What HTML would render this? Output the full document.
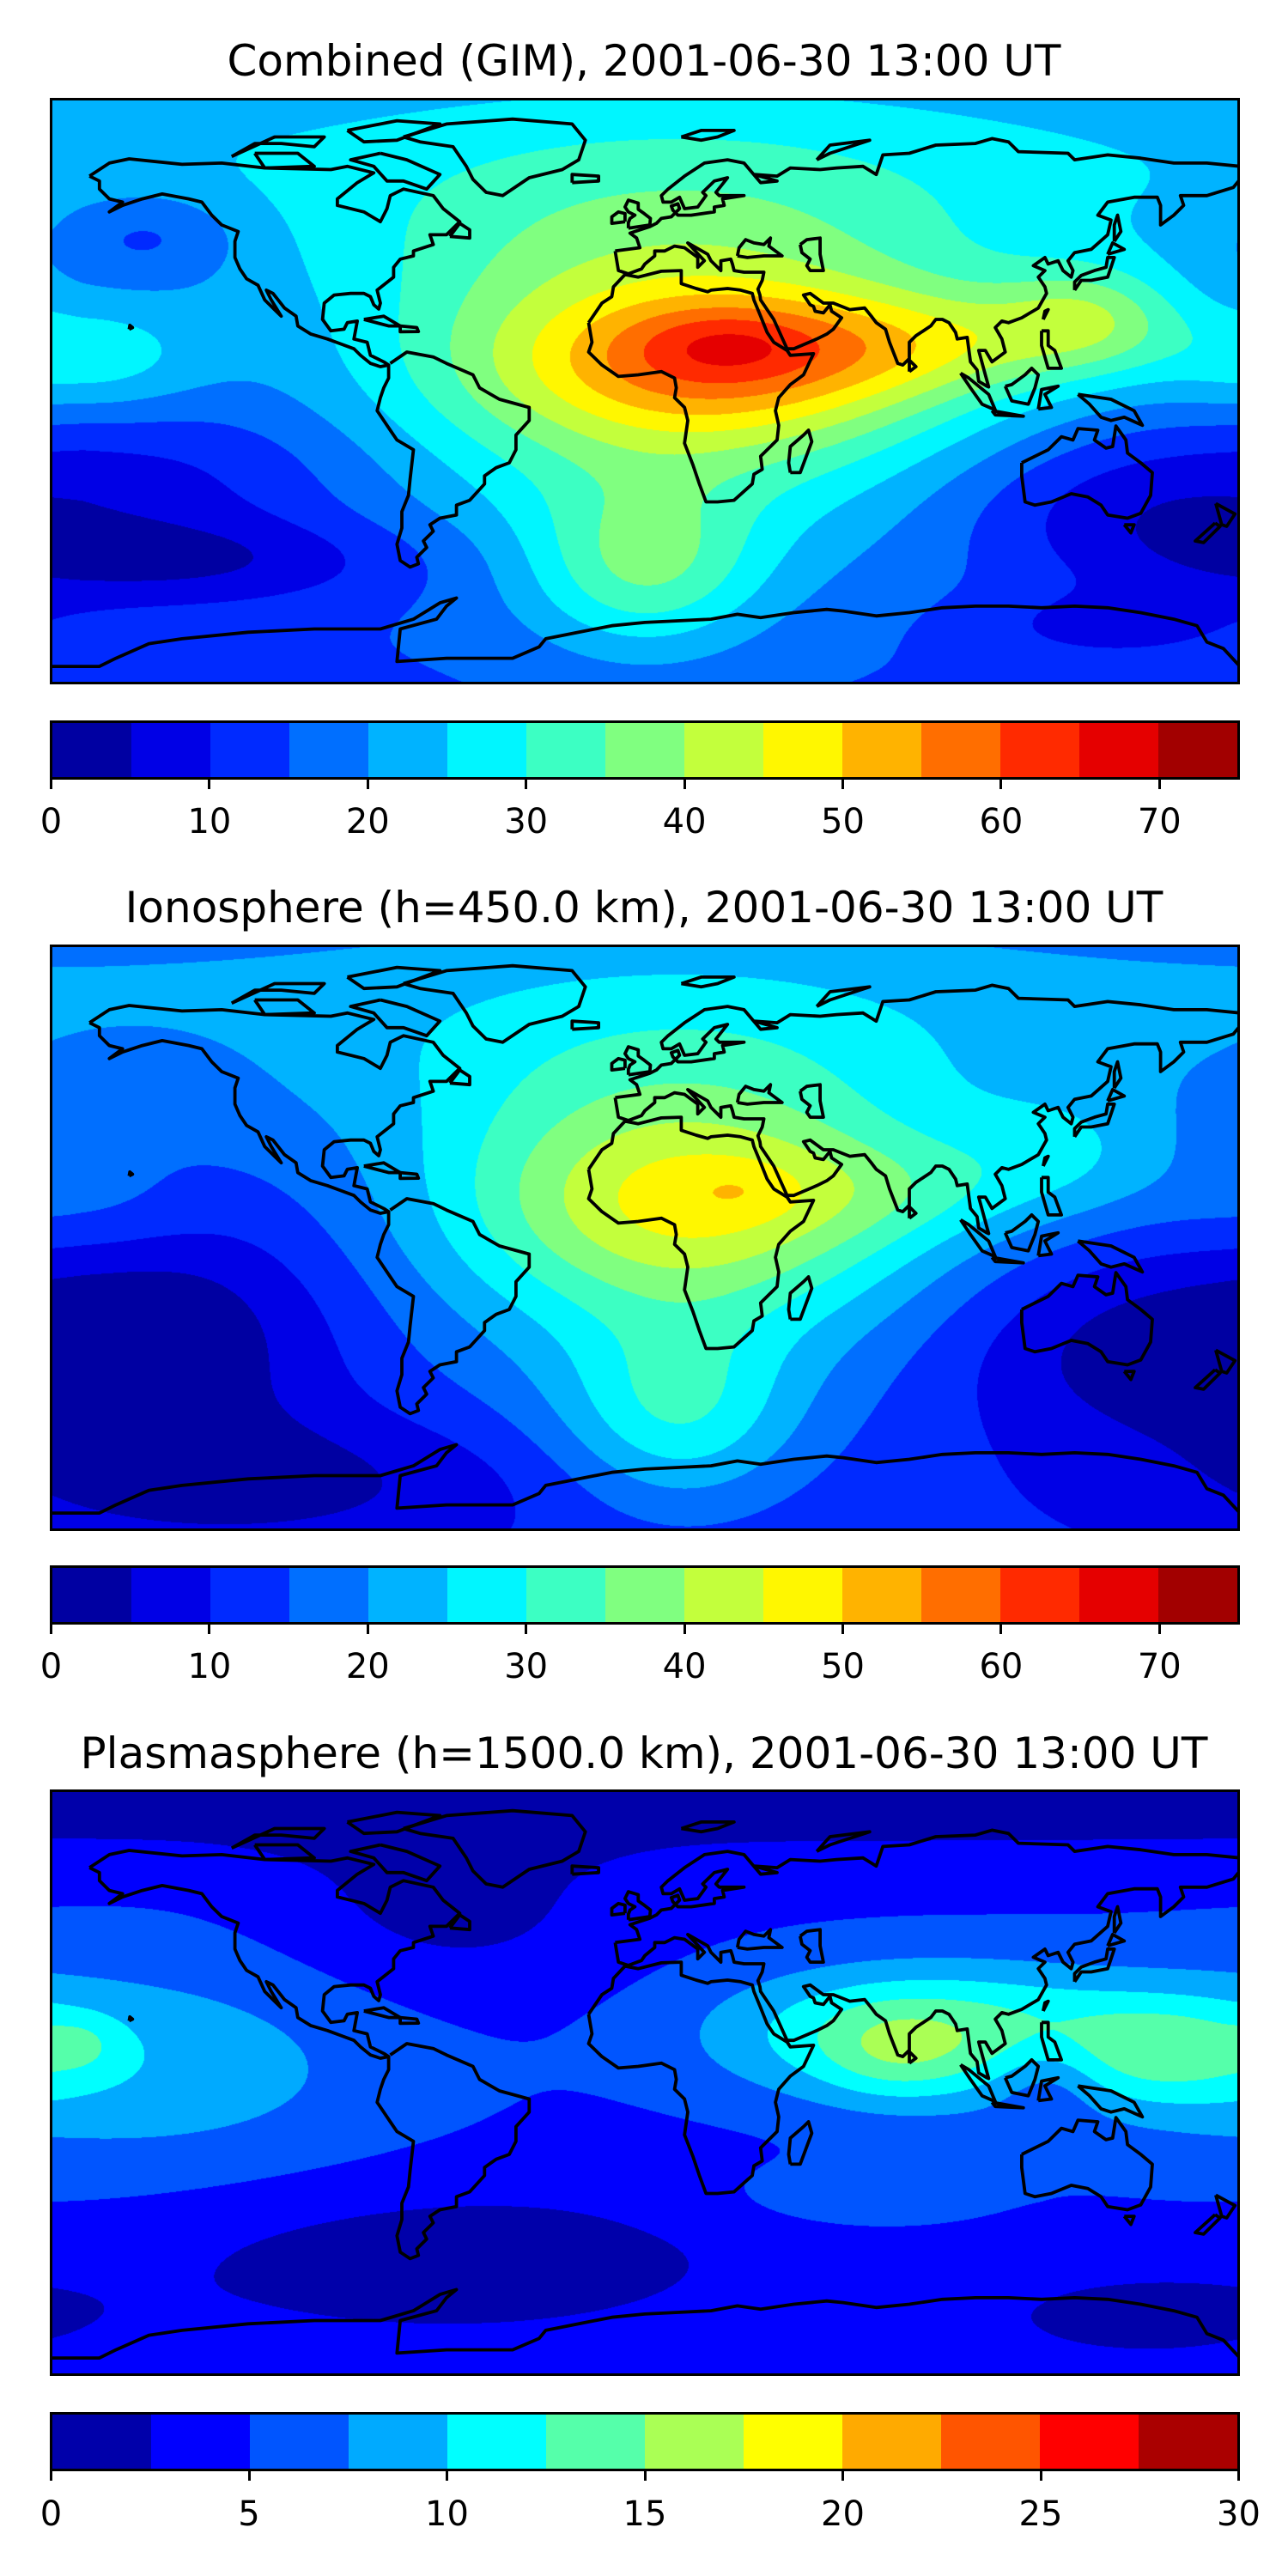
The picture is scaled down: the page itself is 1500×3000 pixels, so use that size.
<!DOCTYPE html>
<html><head><meta charset="utf-8">
<style>
html,body{margin:0;padding:0;background:#fff;}
body{width:1500px;height:3000px;position:relative;overflow:hidden;font-family:"DejaVu Sans","Liberation Sans",sans-serif;}
.title{position:absolute;left:0;width:1500px;text-align:center;font-size:50px;line-height:50px;color:#000;}
.map{position:absolute;left:58px;width:1386px;height:683px;}
.map canvas{position:absolute;left:0;top:0;}
.map svg{position:absolute;left:0;top:0;}
.cbar{position:absolute;left:58px;width:1386px;height:69px;box-sizing:border-box;border:3px solid #000;display:flex;}
.cbar div{flex:1;height:100%;}
.tick{position:absolute;width:3px;height:11px;background:#000;}
.tlab{position:absolute;font-size:40px;line-height:40px;width:120px;text-align:center;}
</style></head><body>
<div id="root"></div>
<script>
// ----- data arrays -----
// blobs: [lon, lat, amplitude, sigmaLon, sigmaLat]
const gimBase = 14;
const gimBlobs = [
 [0,70,10,1000,30],[10,10,26,70,40],[22,8,18,45,16],[25,15,7,20,8],
 [90,15,12,35,12],[135,22,15,20,12],[0,-55,16,25,18],[-170,10,12,25,12],
 [-140,-52,-10,50,10],[150,-35,-9,40,15],[140,-72,-6,30,8],[-150,48,-8,20,10],[-130,-25,-5,40,15]
];
const ionoBase = 11;
const ionoBlobs = [
 [0,70,10,1000,30],[10,10,22,60,40],[15,10,13,45,20],[30,15,3,12,6],
 [130,25,8,25,15],[80,15,6,30,12],[10,-55,14,25,20],[-140,-30,-9,35,25],
 [150,-35,-9,40,20],[-120,-75,-8,60,15],[-170,10,5,25,12],[-150,50,-3,20,10]
];
const plasBase = 4.5;
const plasBlobs = [
 [0,85,-3,1000,12],[-60,55,-3,35,20],[85,15,9.5,45,15],[75,8,2.5,15,10],
 [-150,5,4.5,55,25],[-170,12,2,8,6],[-60,-55,-3.5,70,18],[150,-72,-3,35,10],
 [122,2,-3.5,12,10],[160,10,5,25,12],[60,-35,2,30,8]
];
const gimTicks = [0,10,20,30,40,50,60,70];
const plasTicks = [0,5,10,15,20,25,30];
const panels = [
 {name:'combined',title:'Combined (GIM), 2001-06-30 13:00 UT',base:gimBase,blobs:gimBlobs,vmax:75,nlev:15,ticks:gimTicks,titleY:46,mapY:114,cbY:839,labY:937},
 {name:'ionosphere',title:'Ionosphere  (h=450.0 km), 2001-06-30 13:00 UT',base:ionoBase,blobs:ionoBlobs,vmax:75,nlev:15,ticks:gimTicks,titleY:1032,mapY:1100,cbY:1823,labY:1921},
 {name:'plasmasphere',title:'Plasmasphere (h=1500.0 km), 2001-06-30 13:00 UT',base:plasBase,blobs:plasBlobs,vmax:30,nlev:12,ticks:plasTicks,titleY:2017,mapY:2084,cbY:2809,labY:2908}
];
// coastlines [lon,lat]
const coasts = [
 [[-168,66],[-162,70],[-156,71.3],[-140,69.6],[-128,70],[-115,68.5],[-95,68],[-90,69],[-82,67],[-87,64],[-93,59],[-93,57],[-85,55],[-80,52],[-78,56],[-77,60],[-73,62],[-64,60],[-61,56],[-56,52],[-60,48],[-65,48],[-64,45],[-70,43],[-70,41.5],[-74,40.5],[-76,38],[-76,35],[-81,31],[-80,27],[-80.5,25.2],[-82,26.5],[-83,29],[-85,30],[-89,30],[-94,29.5],[-97,27],[-97.5,22],[-95,18.5],[-91,19],[-90,21],[-87,21.5],[-88,16],[-84,15],[-83,11],[-79,9],[-77.5,8],[-80,7.5],[-83,8.5],[-86,11],[-88,13],[-92,14.5],[-96,16],[-101,17.5],[-105,20],[-105.5,23],[-109,25.5],[-112.5,30],[-114.5,31],[-113,28],[-110,23],[-112,25],[-115,28],[-117,32.5],[-120.5,34.5],[-122.5,37.5],[-124,41],[-124,46],[-123,49],[-128,51],[-131,54],[-134,58],[-138,59],[-146,60.5],[-152,59],[-158,57],[-162,55],[-158,58],[-162,59],[-165,62],[-165,64.5],[-168,66]],
 [[-73,78],[-60,82],[-40,83.5],[-22,82],[-18,77],[-20,71],[-25,68],[-35,65.5],[-43,60],[-48,61],[-52,65],[-54,69],[-58,75],[-68,76.5],[-73,78]],
 [[-80,73],[-72,71],[-62,66.5],[-66,62],[-73,64.5],[-78,64.5],[-82,69],[-89,71],[-80,73]],
 [[-118,73],[-105,73],[-100,69],[-115,68.5],[-118,73]],
 [[-90,80],[-75,83],[-62,82],[-75,77],[-85,76.5],[-90,80]],
 [[-125,72],[-118,76],[-110,76],[-100,75],[-97,78],[-112,78],[-125,72]],
 [[-77,8.5],[-72,12],[-64,10.5],[-60,8.5],[-52,5],[-50,1],[-44,-2.5],[-35,-5],[-35,-9],[-39,-13.5],[-39,-18],[-41,-22],[-45,-23.5],[-48.5,-26],[-48.5,-28.5],[-53,-33.5],[-57,-35],[-57,-38],[-62,-39],[-65,-41],[-64,-43],[-67,-46],[-66,-48],[-69,-51],[-68.5,-53],[-71,-54],[-74,-52],[-75,-47],[-73.5,-42],[-73.5,-37],[-71.5,-32],[-71,-27],[-70,-18],[-75,-15],[-77,-12],[-81,-6],[-80,-2],[-79,1],[-77.5,4],[-77.5,8]],
 [[-17,21],[-16,15],[-17,12],[-13,8],[-8,4.5],[-2,5],[5,6],[9,4],[9.5,1],[9,-2],[12,-5],[13,-9],[12,-16],[14.5,-22.5],[16.5,-28.5],[18.5,-34],[22,-34],[27,-33.5],[32.5,-28.5],[33,-25.5],[35.5,-24],[35,-20],[40,-15],[40.5,-10.5],[39.5,-6],[40.5,-2],[44,2],[48,5],[51,11.5],[44,11],[43,12.5],[39,15],[37,18],[35,23],[33,28],[32.5,30],[29,31],[25,31.5],[20,31],[19,30.5],[15.5,31.5],[11,33],[11,37],[5,36.8],[-2,35],[-6,35.8],[-9.5,32],[-10,29],[-13,27],[-17,21]],
 [[44,-25],[47,-25],[50.5,-15.5],[49.5,-12],[48,-13.5],[44,-17],[43.5,-22],[44,-25]],
 [[-9,43],[-8,37],[-5,36],[-1,37.5],[0,39],[3,41.5],[3,43],[6,43],[9,44.5],[12,44],[16,41],[16,38],[18,40],[13,45.5],[19,42],[20,40],[23,37],[23,40],[26,40.5],[26.5,39],[27,37],[30,36.5],[36,36.5],[35.5,34],[34.2,31.3],[34.8,29.5],[35,28],[39,22],[43,13],[45,13],[52,16],[55,17.5],[57,19],[59.5,22.5],[56.5,24.5],[56,26.5],[54,24],[51.5,24.5],[51,26],[50,26.5],[48,29.5],[50,30],[54,27],[57,27],[62,25],[66.5,25.5],[68.5,23],[70,21],[72.8,19],[74,15],[76.5,8.5],[78,8],[80,10],[80,15],[82,17],[86.5,20],[88,22],[90,22],[92,21],[94,18],[94.5,16],[97.5,16.5],[98.5,9],[100.5,6.5],[101,3],[103.5,1.5],[104,1.3],[103,5],[101,12.5],[103,12.5],[105,9],[109,12],[108,16],[106,19.5],[108,21.5],[110,21],[114,22.5],[119,25.5],[121.5,30],[121,32],[119,35],[121,37],[117.5,38.5],[121,41],[122,39],[125,40],[126.5,37],[129,35],[129.5,37],[128,40],[130,42.5],[135,43.5],[140,48],[141,52.5],[137,54],[140,58],[148,59.5],[155,59.5],[156,57],[156,51],[160,54],[163,57],[162,60],[170,60],[178,62.5],[180,65],[180,69],[170,70],[160,70],[150,71.5],[140,72.5],[130,71],[128,73],[113,73.5],[110,76.5],[105,77.5],[100,76],[88,75.5],[80,73],[72,72.5],[70,66.5],[66,69],[58,68.5],[53,68],[44,68.5],[40,66],[33,66.5],[40,64.5],[35,64],[30,70],[25,71],[18,70],[12,66],[7,62],[5,60],[5.5,58],[8,58],[10.5,59.5],[12,56],[16,56.5],[18.5,60],[17.5,61],[21,64.5],[25,65.5],[21.5,61],[22.5,60],[30,60],[23.5,59],[24,57],[21,56.5],[21,55],[14,54],[10,54],[8.5,55.5],[8,56.8],[10,57.5],[10.5,56],[8,53.5],[5,53],[3.5,51.5],[1.5,50.5],[-1.5,49.5],[-4.5,48.5],[-2.5,47],[-1.5,44],[-9,43]],
 [[28,41.5],[28.5,44],[30.5,46.5],[33,45.5],[36,45],[38,47],[37.5,44.5],[41.5,41.5],[36,41.5],[31,41],[28,41.5]],
 [[47,45],[49,46.5],[53,47],[53,42],[53.5,39.5],[54,37],[50,37],[49,38.5],[50,40.5],[47.5,42.5],[47,45]],
 [[130,31],[132,34],[135,34],[140,35],[141,38],[142,41],[140,41],[139.5,38],[136,37],[132,35.5],[130,33.5],[130,31]],
 [[140,42],[145,43.5],[141.5,45.5],[140,42]],
 [[142,46],[144,49],[143,54],[142,51],[142,46]],
 [[-5,50],[1.5,51],[1.7,53],[-0.2,54.5],[-2,55.8],[-2,57.7],[-5,58.6],[-6,56.5],[-5,55],[-3,54],[-4.5,53],[-5,51.7],[-5,50]],
 [[-6,52],[-6,54.5],[-8,55],[-10,53.5],[-10,51.5],[-6,52]],
 [[-22,64],[-14,64.5],[-14,66],[-22,66.5],[-22,64]],
 [[11,78],[17,77],[22,78],[27,80],[17,80],[11,78]],
 [[52,71],[56,75.5],[68,77],[56,73],[52,71]],
 [[95.5,5.5],[98,4],[104,-1],[106,-5.8],[102,-4],[98.5,1],[95.5,5.5]],
 [[109,1.5],[111,-3],[116,-4],[118,1],[119,5],[117,7],[115,5],[111,2],[109,1.5]],
 [[105,-6],[114.5,-7.7],[106,-7.3],[105,-6]],
 [[119,-5.5],[120,0.5],[125,1.5],[121,-1],[123,-5],[119,-5.5]],
 [[131,-1],[141,-2.5],[148,-6],[150.5,-10.5],[145,-8],[141,-9],[138,-8],[134.5,-4],[131,-1]],
 [[120,18.5],[122,18.5],[122,14],[124,12.5],[126,7],[122,7],[120,14],[120,18.5]],
 [[120.5,22],[122,25],[121,24.5],[120.5,22]],
 [[80,6],[82,7.5],[80,9.5],[80,6]],
 [[114,-22],[114,-26],[115,-34],[118,-35],[123,-34],[129,-31.5],[134,-32.5],[138,-35],[140,-38],[146,-39],[150,-37.5],[153,-32],[153.5,-25],[150,-22],[146,-19],[145.5,-15],[142.5,-10.7],[141.5,-17],[139.5,-17.5],[136,-15],[137,-12],[131,-11.5],[129.5,-15],[126,-14],[122,-18],[114,-22]],
 [[145,-41],[148,-41],[147,-43.5],[145,-41]],
 [[172.7,-34.5],[178.5,-37.7],[176,-41.5],[174.5,-41],[172.7,-34.5]],
 [[172.5,-40.5],[174,-41.5],[171,-44.5],[169,-46.5],[166.5,-46],[172.5,-40.5]],
 [[-85,22],[-79,23],[-74,20],[-77.5,20],[-85,22]],
 [[-74,20],[-69,19.5],[-68.5,18.3],[-74,18.2],[-74,20]],
 [[-59,47.5],[-53,47],[-53,49.5],[-56,51.5],[-59,47.5]],
 [[-156,19],[-155,19.5],[-155.8,20.2],[-156,19]],
 [[-180,-84.5],[-165,-84.5],[-160,-82],[-150,-77.5],[-140,-76],[-120,-74],[-100,-73],[-80,-73],[-70,-70],[-62,-65],[-57,-63.5],[-60,-66],[-63,-70],[-74,-73],[-75,-83],[-60,-82],[-40,-82],[-32,-78.5],[-30,-76],[-20,-74],[-10,-72],[0,-71],[10,-70.5],[20,-70],[28,-68.5],[35,-69.5],[45,-68],[55,-67],[60,-67.5],[70,-69],[80,-68],[90,-66.5],[100,-66],[110,-66],[120,-66.5],[130,-66],[140,-66.5],[150,-68],[160,-70],[167,-72],[170,-77],[175,-79],[180,-84.5]]
];
// ----- rendering -----
const W=1386,H=683;
const xOf=lon=>(lon+180)/360*W;
const yOf=lat=>(90-lat)/180*H;
function jet(x){const c=v=>Math.round(255*Math.max(0,Math.min(1,v)));
 return [c(1.5-Math.abs(4*x-3)),c(1.5-Math.abs(4*x-2)),c(1.5-Math.abs(4*x-1))];}
function field(p,lon,lat){let v=p.base;for(const b of p.blobs){let dl=lon-b[0];dl=((dl+540)%360)-180;
 v+=b[2]*Math.exp(-(dl*dl)/(2*b[3]*b[3])-((lat-b[1])*(lat-b[1]))/(2*b[4]*b[4]));}return v;}
const root=document.getElementById('root');
panels.forEach(p=>{
 const t=document.createElement('div');t.className='title';t.style.top=p.titleY+'px';t.textContent=p.title;
 
 
 root.appendChild(t);
 const m=document.createElement('div');m.className='map';m.style.top=p.mapY+'px';
 
 
 const cv=document.createElement('canvas');cv.width=W;cv.height=H;
 
 
 const ctx=cv.getContext('2d');const img=ctx.createImageData(W,H);
 const cols=[];for(let i=0;i<p.nlev;i++)cols.push(jet((i+0.5)/p.nlev));
 const step=p.vmax/p.nlev;
 for(let y=0;y<H;y++){const lat=90-(y+0.5)/H*180;
  for(let x=0;x<W;x++){const lon=-180+(x+0.5)/W*360;
   let k=Math.floor(field(p,lon,lat)/step);k=Math.max(0,Math.min(p.nlev-1,k));
   const c=cols[k],o=(y*W+x)*4;img.data[o]=c[0];img.data[o+1]=c[1];img.data[o+2]=c[2];img.data[o+3]=255;}}
 ctx.putImageData(img,0,0);m.appendChild(cv);
 const ns='http://www.w3.org/2000/svg';
 const sv=document.createElementNS(ns,'svg');sv.setAttribute('width',W);sv.setAttribute('height',H);
 
 
 coasts.forEach(poly=>{const pl=document.createElementNS(ns,'polyline');
  pl.setAttribute('points',poly.map(q=>xOf(q[0]).toFixed(1)+','+yOf(q[1]).toFixed(1)).join(' '));
  pl.setAttribute('fill','none');pl.setAttribute('stroke','#000');pl.setAttribute('stroke-width','3.8');pl.setAttribute('stroke-linejoin','round');
  
  
  sv.appendChild(pl);});
 const fr=document.createElementNS(ns,'rect');fr.setAttribute('x',1.5);fr.setAttribute('y',1.5);fr.setAttribute('width',W-3);fr.setAttribute('height',H-3);
 fr.setAttribute('fill','none');fr.setAttribute('stroke','#000');fr.setAttribute('stroke-width','3');
 
 
 sv.appendChild(fr);m.appendChild(sv);root.appendChild(m);
 const cb=document.createElement('div');cb.className='cbar';cb.style.top=p.cbY+'px';
 
 
 cols.forEach(c=>{const d=document.createElement('div');d.style.background='rgb('+c.join(',')+')';
  
  
  cb.appendChild(d);});
 root.appendChild(cb);
 p.ticks.forEach(v=>{const x=58+1.5+v/p.vmax*(W-3);
  const tk=document.createElement('div');tk.className='tick';tk.style.left=(x-1.5)+'px';tk.style.top=(p.cbY+69)+'px';
  
  
  root.appendChild(tk);
  const lb=document.createElement('div');lb.className='tlab';lb.style.left=(x-60)+'px';lb.style.top=p.labY+'px';lb.textContent=v;
  
  
  root.appendChild(lb);});
});
</script>
</body></html>
